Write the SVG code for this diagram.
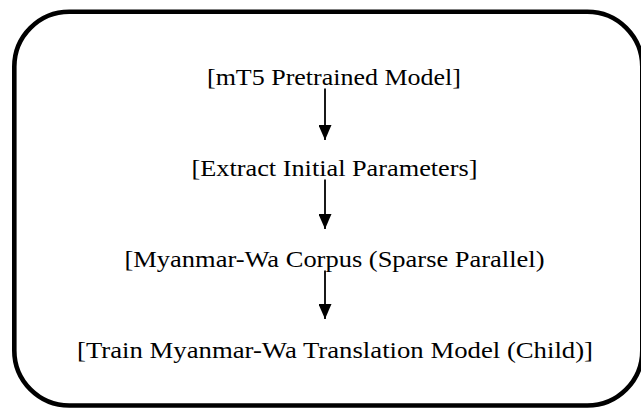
<svg xmlns="http://www.w3.org/2000/svg" width="641" height="408" viewBox="0 0 641 408">
  <style>
    .lbl { font-family: "Liberation Serif", "Times New Roman", Times, serif; font-size: 22.5px; fill: #000; text-anchor: middle; }
    .edge { stroke: #000; stroke-width: 1.8; fill: none; }
  </style>
  <defs>
    <marker id="ah" viewBox="0 0 15 13" markerWidth="15" markerHeight="13" refX="15" refY="6.5" orient="auto" markerUnits="userSpaceOnUse">
      <path d="M0,0 L15,6.5 L0,13 Z" fill="#000"/>
    </marker>
  </defs>
  <rect id="frame" x="14.3" y="11.7" width="628" height="393.8" rx="55" ry="55" fill="#fff" stroke="#000" stroke-width="4.6"/>
  <g id="connectors">
    <line class="edge" x1="325" y1="88.5" x2="325" y2="140" marker-end="url(#ah)"/>
    <line class="edge" x1="325" y1="179.5" x2="325" y2="229" marker-end="url(#ah)"/>
    <line class="edge" x1="325" y1="270.5" x2="325" y2="319" marker-end="url(#ah)"/>
  </g>
  <g id="node-mt5">
    <text class="lbl" x="334" y="84.5" textLength="254" lengthAdjust="spacingAndGlyphs">[mT5 Pretrained Model]</text>
  </g>
  <g id="node-extract">
    <text class="lbl" x="334.5" y="175.5" textLength="286" lengthAdjust="spacingAndGlyphs">[Extract Initial Parameters]</text>
  </g>
  <g id="node-corpus">
    <text class="lbl" x="334.5" y="266.5" textLength="420" lengthAdjust="spacingAndGlyphs">[Myanmar-Wa Corpus (Sparse Parallel)</text>
  </g>
  <g id="node-train">
    <text class="lbl" x="335" y="357.5" textLength="516" lengthAdjust="spacingAndGlyphs">[Train Myanmar-Wa Translation Model (Child)]</text>
  </g>
</svg>
